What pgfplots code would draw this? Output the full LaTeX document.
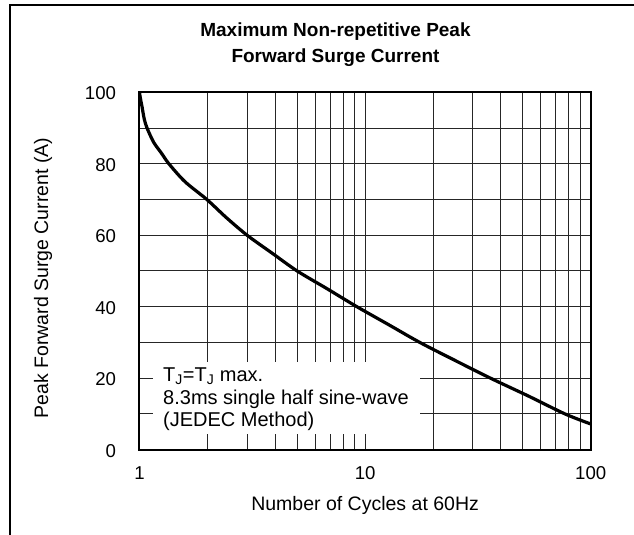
\documentclass[border=0pt]{standalone}
\usepackage{fontspec}
\setmainfont{Liberation Sans}
\usepackage{pgfplots}
\pgfplotsset{compat=1.18}
\begin{document}
\begin{tikzpicture}[x=1pt,y=1pt]
\path[use as bounding box] (-139.5,-85.3) rectangle (494.5,449.7);
\draw[line width=2pt] (-129.5,-95) -- (-129.5,444.2) -- (505,444.2);
\begin{axis}[
  at={(0,0)}, anchor=south west,
  scale only axis,
  width=451.2pt, height=357.4pt,
  xmode=log,
  xmin=1, xmax=100, ymin=0, ymax=100,
  xtick={1,10,100}, xticklabels={1,10,100},
  minor xtick={2,3,4,5,6,7,8,9,20,30,40,50,60,70,80,90},
  ytick={0,20,40,60,80,100}, yticklabels={0,20,40,60,80,100},
  minor ytick={10,30,50,70,90},
  grid=both,
  major grid style={black!85, line width=1pt},
  minor grid style={black!85, line width=1pt},
  major tick length=0pt, minor tick length=0pt,
  axis line style={line width=2pt},
  tick label style={font=\fontsize{18.6}{20}\selectfont},
  xticklabel style={yshift=-13pt},
  yticklabel style={xshift=-20pt, yshift=-1pt},
  xlabel={Number of Cycles at 60Hz},
  ylabel={Peak Forward Surge Current (A)},
  label style={font=\fontsize{19.5}{22}\selectfont},
  xlabel style={at={(axis description cs:0.5,-0.1547)}, anchor=center},
  ylabel style={at={(axis description cs:-0.2139,0.48)}, anchor=center},
]
\addplot[black, line width=3.2pt, smooth, tension=0.5] coordinates {
(1,100) (1.005,99) (1.015,97.5) (1.026,96) (1.05,92.5) (1.08,90)
(1.156,86) (1.25,83) (1.35,80) (1.59,75) (1.99,70) (2.42,65) (3,60)
(3.87,55) (5,50) (6.8,45) (9.2,40) (12.7,35) (17.5,30) (25,25)
(36,20) (53,15) (77,10) (100,7.2)
};
\end{axis}
\fill[white] (13.5,15.7) rectangle (280.5,87.7);
\node[anchor=base west, align=left, inner sep=0pt, font=\fontsize{20}{22.5}\selectfont] at (23.5,23)
  {T\textsubscript{J}=T\textsubscript{J} max.\\8.3ms single half sine-wave\\(JEDEC Method)};
\node[align=center, font=\bfseries\fontsize{19}{26}\selectfont] at (196,404.7)
  {Maximum Non-repetitive Peak\\Forward Surge Current};
\end{tikzpicture}
\end{document}
